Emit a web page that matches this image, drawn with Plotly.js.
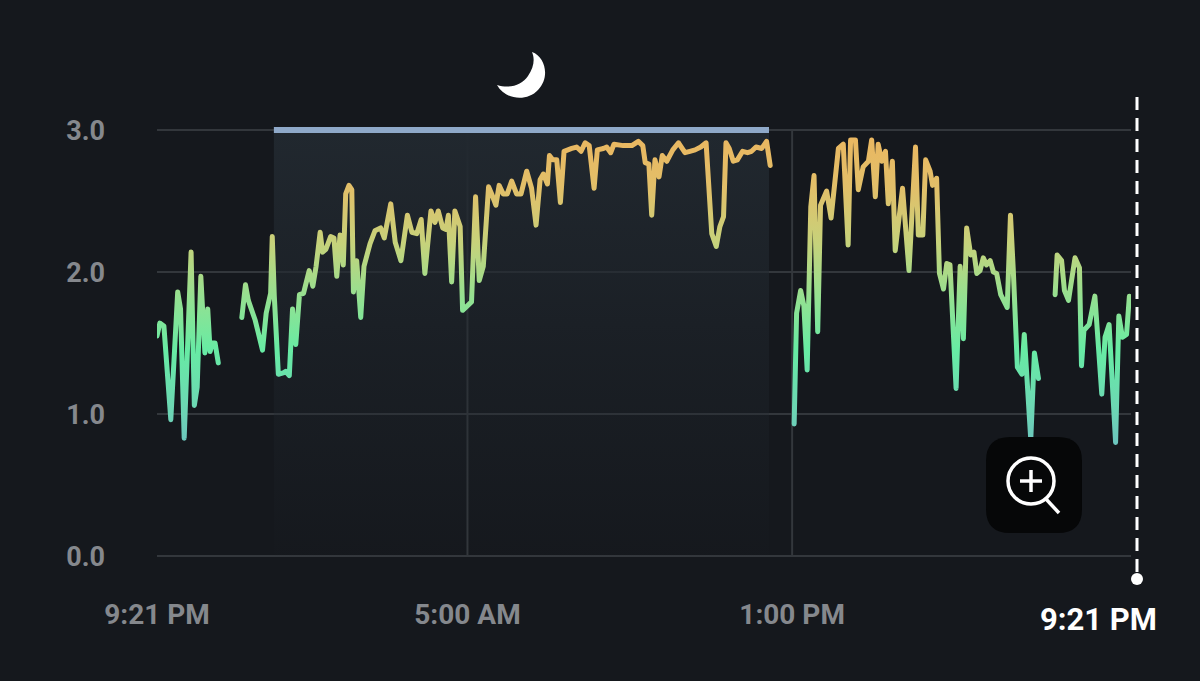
<!DOCTYPE html>
<html>
<head>
<meta charset="utf-8">
<script src="https://cdn.plot.ly/plotly-3.0.1.min.js"></script>
<style>html,body{margin:0;padding:0;background:#15181d;overflow:hidden}#chart{width:1200px;height:681px}</style>
</head>
<body>
<div id="chart"></div>
<script>
// Hours since the start of the 24 h window (9:21 PM), and measured value
const hoursA = [0.0,0.07,0.17,0.34,0.51,0.58,0.67,0.84,0.92,0.99,1.08,1.18,1.25,1.31,1.36,1.43,1.51];
const valuesA = [1.55,1.64,1.62,0.96,1.86,1.74,0.83,2.14,1.06,1.19,1.97,1.43,1.74,1.44,1.50,1.50,1.36];

const hoursB = [2.09,2.18,2.25,2.42,2.60,2.69,2.80,2.84,2.89,2.99,3.11,3.17,3.26,3.34,3.42,3.51,3.61,3.75,3.84,3.92,4.02,4.08,4.16,4.28,4.36,4.43,4.51,4.59,4.65,4.73,4.80,4.84,4.92,5.02,5.10,5.25,5.37,5.51,5.60,5.76,5.87,6.01,6.17,6.28,6.40,6.51,6.60,6.75,6.85,6.93,7.04,7.12,7.18,7.26,7.34,7.47,7.53,7.75,7.85,7.94,8.04,8.17,8.26,8.35,8.43,8.53,8.63,8.74,8.86,8.97,9.11,9.23,9.34,9.44,9.52,9.62,9.67,9.75,9.85,9.94,10.03,10.10,10.22,10.34,10.45,10.55,10.65,10.77,10.85,11.00,11.08,11.18,11.26,11.49,11.70,11.86,11.97,12.03,12.12,12.19,12.27,12.37,12.45,12.56,12.71,12.85,13.01,13.13,13.26,13.40,13.53,13.67,13.78,13.87,13.96,14.02,14.10,14.20,14.30,14.43,14.55,14.65,14.76,14.90,15.02,15.11];
const valuesB = [1.68,1.91,1.80,1.66,1.45,1.71,1.85,2.25,1.83,1.28,1.29,1.30,1.27,1.74,1.49,1.84,1.85,2.01,1.90,2.04,2.28,2.14,2.16,2.25,2.24,1.97,2.26,2.05,2.55,2.61,2.58,1.86,2.08,1.68,2.04,2.20,2.29,2.31,2.24,2.48,2.21,2.08,2.40,2.28,2.27,2.37,1.99,2.43,2.35,2.43,2.31,2.30,2.40,1.93,2.43,2.32,1.73,1.79,2.53,1.94,2.04,2.60,2.54,2.47,2.61,2.55,2.55,2.64,2.55,2.55,2.71,2.59,2.33,2.65,2.69,2.62,2.82,2.79,2.79,2.49,2.85,2.86,2.87,2.88,2.85,2.91,2.89,2.59,2.86,2.87,2.88,2.84,2.90,2.89,2.89,2.92,2.89,2.77,2.76,2.40,2.79,2.67,2.82,2.78,2.86,2.91,2.84,2.85,2.86,2.88,2.91,2.27,2.18,2.32,2.39,2.91,2.87,2.78,2.79,2.85,2.84,2.85,2.88,2.87,2.92,2.75];

const hoursC = [15.70,15.76,15.86,15.94,16.02,16.11,16.19,16.28,16.35,16.50,16.61,16.71,16.79,16.91,17.03,17.09,17.21,17.28,17.40,17.53,17.61,17.70,17.77,17.86,17.95,18.02,18.12,18.19,18.37,18.53,18.69,18.76,18.87,18.94,19.05,19.11,19.21,19.28,19.38,19.46,19.54,19.69,19.79,19.87,19.95,20.05,20.13,20.20,20.28,20.36,20.44,20.53,20.61,20.69,20.79,20.95,21.03,21.10,21.20,21.31,21.37,21.53,21.62,21.72];
const valuesC = [0.93,1.71,1.87,1.76,1.31,2.46,2.68,1.58,2.47,2.57,2.38,2.62,2.87,2.90,2.19,2.93,2.93,2.58,2.74,2.78,2.93,2.53,2.90,2.78,2.85,2.48,2.78,2.15,2.59,2.01,2.88,2.26,2.26,2.79,2.71,2.61,2.66,1.99,1.88,2.06,2.05,1.18,2.04,1.53,2.31,2.12,2.14,1.99,2.01,2.10,2.05,2.08,2.00,1.99,1.84,1.75,2.40,2.01,1.33,1.28,1.56,0.82,1.43,1.25];

const hoursD = [22.13,22.18,22.29,22.36,22.46,22.62,22.73,22.78,22.84,22.97,23.11,23.28,23.36,23.46,23.62,23.70,23.79,23.89,23.96,24.0];
const valuesD = [1.84,2.12,2.08,1.87,1.80,2.10,2.03,1.34,1.59,1.63,1.83,1.14,1.54,1.63,0.80,1.69,1.54,1.56,1.83,1.77];

const sleepStart = 2.88, sleepEnd = 15.08;
const xTickVals = [0, 7.65, 15.65];
const xTickText = ['9:21 PM', '5:00 AM', '1:00 PM'];
const yTickVals = [0, 1, 2, 3];
const yTickText = ['0.0', '1.0', '2.0', '3.0'];
const nowLabel = '9:21 PM';
const gradValues = [3.0, 2.6, 2.2, 1.8, 1.45, 1.0, 0.8];
const gradColors = ['#EBB660', '#E2BF69', '#C6D27B', '#92E192', '#67EBA4', '#6DD5B5', '#6CC6BE'];

const W = 1200, H = 681, L = 157, R = 1131, T = 130, B = 556;
const PX = p => (p - L) / (R - L);
const PY = p => (B - p) / (B - T);
const P = (x, y) => PX(x).toFixed(5) + ',' + PY(y).toFixed(5);

const series = [[hoursA, valuesA], [hoursB, valuesB], [hoursC, valuesC], [hoursD, valuesD]];
const traces = [{
  x: [sleepStart, sleepEnd, sleepEnd, sleepStart, sleepStart],
  y: [0, 0, 3, 3, 0],
  mode: 'none', fill: 'toself', hoverinfo: 'skip', showlegend: false,
  fillgradient: {type: 'vertical', colorscale: [[0, 'rgba(33,40,47,0.03)'], [0.5, 'rgba(33,40,47,0.45)'], [1, 'rgba(33,40,47,1)']]}
}].concat(series.map(s => ({
  x: s[0], y: s[1], mode: 'lines', hoverinfo: 'skip', showlegend: false, cliponaxis: false,
  line: {color: '#92E192', width: 5, shape: 'linear'}
})));

const gridColor = '#33373c';
const vline = h => ({type: 'line', xref: 'x', yref: 'paper', x0: h, x1: h, y0: 0, y1: 1,
  line: {color: gridColor, width: 2}, layer: 'below'});

const moon = 'M' + P(532, 52) + ' C' + P(546, 57) + ' ' + P(550, 78) + ' ' + P(538, 90) +
  ' C' + P(527, 102) + ' ' + P(505, 100) + ' ' + P(497, 85) +
  ' C' + P(510, 89) + ' ' + P(522, 85) + ' ' + P(528, 76) +
  ' C' + P(534, 67) + ' ' + P(535, 59) + ' ' + P(532, 52) + ' Z';
const bx0 = 986, bx1 = 1082, by0 = 437, by1 = 533, br = 24;
const box = 'M' + P(bx0 + br, by0) + ' L' + P(bx1 - br, by0) + ' Q' + P(bx1, by0) + ' ' + P(bx1, by0 + br) +
  ' L' + P(bx1, by1 - br) + ' Q' + P(bx1, by1) + ' ' + P(bx1 - br, by1) +
  ' L' + P(bx0 + br, by1) + ' Q' + P(bx0, by1) + ' ' + P(bx0, by1 - br) +
  ' L' + P(bx0, by0 + br) + ' Q' + P(bx0, by0) + ' ' + P(bx0 + br, by0) + ' Z';

const pline = (x0, y0, x1, y1, color, width, dash, layer) => ({type: 'line', xref: 'paper', yref: 'paper',
  x0: PX(x0), x1: PX(x1), y0: PY(y0), y1: PY(y1), layer: layer || 'above',
  line: {color: color, width: width, dash: dash || 'solid'}});

const layout = {
  width: W, height: H,
  margin: {l: L, r: W - R, t: T, b: H - B, pad: 0},
  paper_bgcolor: '#15181d', plot_bgcolor: '#15181d',
  showlegend: false,
  font: {family: 'Roboto, sans-serif', color: '#85888d'},
  xaxis: {
    range: [0, 24], tickmode: 'array', tickvals: xTickVals, ticktext: xTickText,
    showgrid: false, zeroline: false, showline: false, ticks: '', ticklabelstandoff: 39,
    tickfont: {family: 'Roboto, sans-serif', size: 28, color: '#85888d', weight: 700}, tickangle: 0
  },
  yaxis: {
    range: [0, 3], tickmode: 'array', tickvals: yTickVals, ticktext: yTickText,
    showgrid: true, gridcolor: gridColor, gridwidth: 2, zeroline: false, showline: false, ticks: '',
    ticklabelstandoff: 51, ticklabelshift: 1,
    tickfont: {family: 'Roboto, sans-serif', size: 27, color: '#85888d', weight: 700}
  },
  shapes: [
    pline(L, T, R, T, gridColor, 2, 'solid', 'below'),
    pline(L, B, R, B, gridColor, 2, 'solid', 'below'),
    vline(xTickVals[1]), vline(xTickVals[2]),
    {type: 'line', xref: 'x', yref: 'paper', x0: sleepStart, x1: sleepEnd, y0: 1, y1: 1, line: {color: '#8FA9C9', width: 6}},
    {type: 'path', xref: 'paper', yref: 'paper', path: moon, fillcolor: '#ffffff', line: {width: 0}},
    {type: 'path', xref: 'paper', yref: 'paper', path: box, fillcolor: '#060708', line: {width: 0}},
    {type: 'circle', xref: 'paper', yref: 'paper', x0: PX(1008), x1: PX(1054), y0: PY(504), y1: PY(458),
      line: {color: '#ffffff', width: 3.5}, fillcolor: 'rgba(0,0,0,0)'},
    pline(1046, 499, 1059, 513, '#ffffff', 3.5),
    pline(1020, 481, 1042, 481, '#ffffff', 3.5),
    pline(1031, 470, 1031, 492, '#ffffff', 3.5),
    pline(1137, 97, 1137, 574, '#ffffff', 3, '13px,8px'),
    {type: 'circle', xref: 'paper', yref: 'paper', x0: PX(1131), x1: PX(1143), y0: PY(585), y1: PY(573),
      fillcolor: '#ffffff', line: {width: 0}}
  ],
  annotations: [{
    xref: 'paper', yref: 'paper', x: PX(1098), y: PY(619), text: nowLabel, showarrow: false,
    xanchor: 'center', yanchor: 'middle',
    font: {family: 'Roboto, sans-serif', size: 31, color: '#ffffff', weight: 700}
  }]
};

const gd = document.getElementById('chart');
function applyGradient() {
  const svg = gd.querySelector('svg.main-svg');
  const ya = gd._fullLayout.yaxis;
  const NS = 'http://www.w3.org/2000/svg';
  let g = svg.querySelector('#valueGrad');
  if (!g) {
    g = document.createElementNS(NS, 'linearGradient');
    g.setAttribute('id', 'valueGrad');
    g.setAttribute('gradientUnits', 'userSpaceOnUse');
    g.setAttribute('x1', 0); g.setAttribute('x2', 0);
    g.setAttribute('y1', ya.c2p(3)); g.setAttribute('y2', ya.c2p(0));
    gradValues.forEach((v, i) => {
      const s = document.createElementNS(NS, 'stop');
      s.setAttribute('offset', (3 - v) / 3);
      s.setAttribute('stop-color', gradColors[i]);
      g.appendChild(s);
    });
    let defs = svg.querySelector('defs');
    defs.appendChild(g);
  }
  gd.querySelectorAll('.scatterlayer .js-line').forEach(p => {
    p.style.stroke = 'url(#valueGrad)';
    p.style.strokeLinejoin = 'round';
    p.style.strokeLinecap = 'round';
  });
}
Plotly.newPlot(gd, traces, layout, {displayModeBar: false, staticPlot: true}).then(() => {
  applyGradient();
  gd.on('plotly_afterplot', applyGradient);
});
</script>
</body>
</html>
